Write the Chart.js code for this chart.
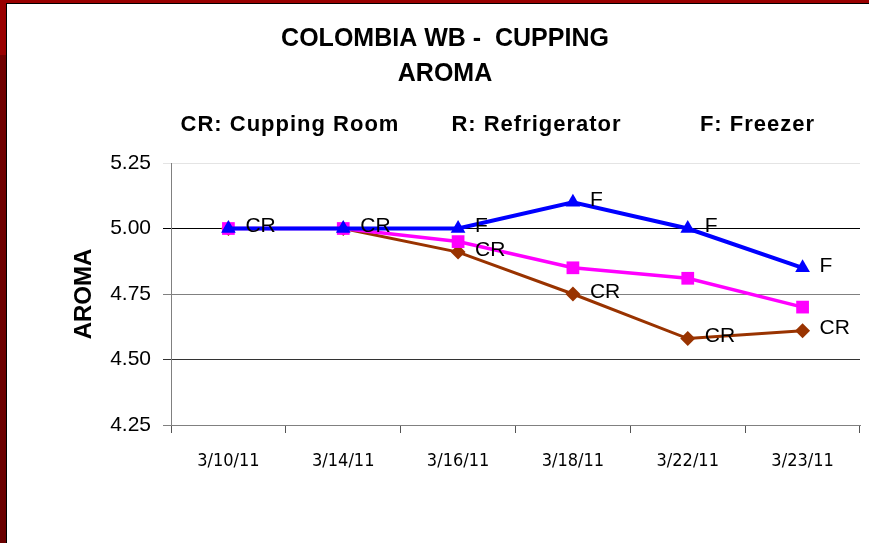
<!DOCTYPE html>
<html>
<head>
<meta charset="utf-8">
<title>Colombia WB - Cupping Aroma</title>
<script src="https://cdn.jsdelivr.net/npm/chart.js"></script>
<style>
    html, body { margin: 0; padding: 0; }
    body {
        width: 869px; height: 543px; overflow: hidden; position: relative;
        background: linear-gradient(to bottom, #990000 0, #990000 55px, #700000 55px, #6a0000 100%);
    }
    #wrap {
        position: absolute; left: 6px; top: 3px; width: 862px; height: 539px;
        border-left: 1px solid #000; border-top: 1px solid #000; background: #fff;
    }
    canvas { display: block; }
</style>
</head>
<body>
<div id="wrap"><canvas id="aromaChart" width="862" height="539"></canvas></div>
<script>
// fechas de cata
const fechas = ['3/10/11', '3/14/11', '3/16/11', '3/18/11', '3/22/11', '3/23/11'];

// puntajes de aroma por lugar de almacenamiento
const freezer = [5.00, 5.00, 5.00, 5.10, 5.00, 4.85];
const refrigerator = [5.00, 5.00, 4.95, 4.85, 4.81, 4.70];
const cuppingRoom = [5.00, 5.00, 4.91, 4.75, 4.58, 4.61];

// etiquetas junto a los puntos
const freezerLabels = ['', '', 'F', 'F', 'F', 'F'];
const cuppingRoomLabels = ['CR', 'CR', 'CR', 'CR', 'CR', 'CR'];

// eje Y
const yTicks = [4.25, 4.50, 4.75, 5.00, 5.25];

// leyenda de abreviaturas
const legendTexts = ['CR: Cupping Room', 'R: Refrigerator', 'F: Freezer'];

const FONT = "'Liberation Sans', Arial, sans-serif";
const NARROW = "'Liberation Sans Narrow', 'DejaVu Sans Condensed', sans-serif";

// texto de leyenda y etiquetas de puntos
const textPlugin = {
    id: 'textPlugin',
    afterDatasetsDraw(chart) {
        const ctx = chart.ctx;
        ctx.save();
        ctx.fillStyle = '#000';
        ctx.textBaseline = 'middle';

        // fila de abreviaturas
        ctx.font = 'bold 22px ' + FONT;
        ctx.textAlign = 'center';
        try { ctx.letterSpacing = '1px'; } catch (e) {}
        const centers = [283, 529.5, 750.5];
        legendTexts.forEach((t, i) => ctx.fillText(t, centers[i], 120.5));
        try { ctx.letterSpacing = '0px'; } catch (e) {}

        // etiquetas de datos
        ctx.font = '21px ' + FONT;
        ctx.textAlign = 'left';
        const sets = [[0, freezerLabels], [2, cuppingRoomLabels]];
        sets.forEach(([idx, labels]) => {
            const meta = chart.getDatasetMeta(idx);
            meta.data.forEach((pt, i) => {
                if (labels[i]) ctx.fillText(labels[i], pt.x + 17, pt.y - 2);
            });
        });
        ctx.restore();
    }
};

const gridColor = (context) => {
    const v = context.tick ? context.tick.value : null;
    if (v === 5.25) return '#e4e4e4';
    if (v === 5.00) return '#000000';
    if (v === 4.75) return '#808080';
    if (v === 4.50) return '#333333';
    return '#808080';
};

const ctx = document.getElementById('aromaChart');

new Chart(ctx, {
    type: 'line',
    data: {
        labels: fechas,
        datasets: [{
                label: 'F',
                data: freezer,
                borderColor: '#0000ff',
                backgroundColor: '#0000ff',
                borderWidth: 4,
                pointStyle: 'triangle',
                pointRadius: 8.5,
                pointBorderWidth: 0,
                tension: 0
            },
            {
                label: 'R',
                data: refrigerator,
                borderColor: '#ff00ff',
                backgroundColor: '#ff00ff',
                borderWidth: 3.5,
                pointStyle: 'rect',
                pointRadius: 9,
                pointBorderWidth: 0,
                tension: 0
            },
            {
                label: 'CR',
                data: cuppingRoom,
                borderColor: '#993300',
                backgroundColor: '#993300',
                borderWidth: 3,
                pointStyle: 'rectRot',
                pointRadius: 7.5,
                pointBorderWidth: 0,
                tension: 0
            }
        ]
    },
    options: {
        responsive: false,
        animation: false,
        layout: { padding: { left: 19, right: 5, top: 0, bottom: 0 } },
        scales: {
            x: {
                offset: true,
                grid: { drawOnChartArea: false, tickLength: 8, color: '#555', offset: true },
                border: { color: '#808080', width: 1 },
                ticks: { color: '#000', font: { family: NARROW, size: 18 }, padding: 18, maxRotation: 0 },
                afterFit: (scale) => { scale.height = 118; }
            },
            y: {
                min: 4.25,
                max: 5.25,
                afterBuildTicks: (scale) => { scale.ticks = yTicks.map(v => ({ value: v })); },
                ticks: {
                    color: '#000',
                    font: { family: FONT, size: 21 },
                    padding: 12,
                    callback: (v) => Number(v).toFixed(2)
                },
                grid: { color: gridColor, tickLength: 8 },
                border: { color: '#808080', width: 1 },
                title: {
                    display: true,
                    text: 'AROMA',
                    color: '#000',
                    font: { family: FONT, size: 24, weight: 'bold' },
                    padding: { top: 44, bottom: 0 }
                },
                afterFit: (scale) => { scale.width = 145; }
            }
        },
        plugins: {
            legend: { display: false },
            tooltip: { enabled: false },
            title: {
                display: true,
                text: ['COLOMBIA WB -  CUPPING', 'AROMA'],
                color: '#000',
                font: { family: FONT, size: 25, weight: 'bold', lineHeight: 1.4 },
                padding: { top: 17.5, bottom: 71.5 }
            }
        }
    },
    plugins: [textPlugin]
});
</script>
</body>
</html>
